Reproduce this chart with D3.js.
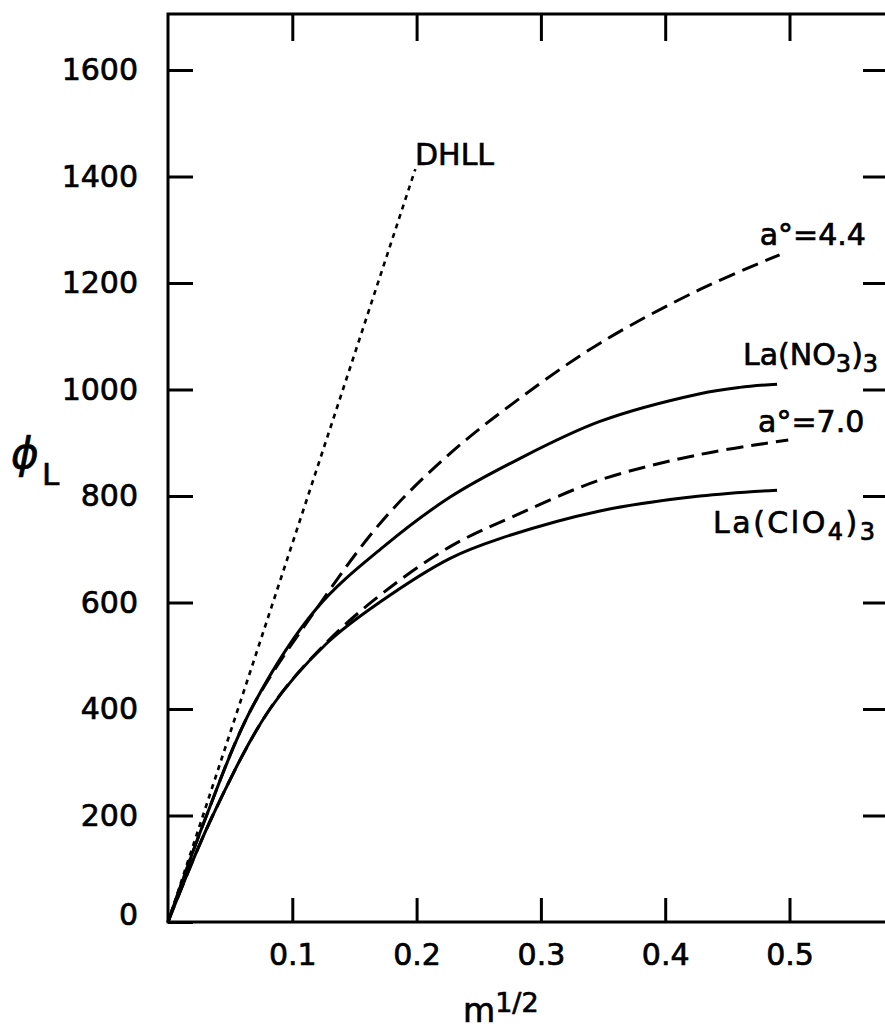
<!DOCTYPE html>
<html>
<head>
<meta charset="utf-8">
<script src="https://cdn.jsdelivr.net/npm/d3@7"></script>
<style>
  html, body { margin: 0; padding: 0; background: #fff; }
  svg { display: block; }
  text { font-family: "DejaVu Sans", sans-serif; fill: #000; stroke: #000; stroke-width: 0.7px; }
</style>
</head>
<body>
<svg id="chart" width="885" height="1030"></svg>
<script>
// ---- data (m^1/2, phi_L) ----
const dhll = [[0, 0], [0.199, 1414]];
const a44 = [[0, 0], [0.031, 200], [0.067, 400], [0.12, 590], [0.173, 755], [0.227, 880], [0.281, 980], [0.3475, 1087], [0.428, 1188], [0.492, 1253]];
const laNO3 = [[0, 0], [0.031, 200], [0.067, 400], [0.12, 590], [0.173, 704], [0.227, 798], [0.281, 868], [0.3475, 940], [0.428, 992], [0.46, 1004], [0.49, 1010]];
const a70 = [[0, 0], [0.036, 200], [0.082, 400], [0.128, 526], [0.173, 618], [0.227, 705], [0.281, 765], [0.3475, 830], [0.428, 878], [0.499, 905]];
const laClO4 = [[0, 0], [0.036, 200], [0.082, 400], [0.128, 524], [0.17, 600], [0.227, 683], [0.267, 720], [0.3475, 772], [0.428, 800], [0.49, 811]];

const xTicks = [0.1, 0.2, 0.3, 0.4, 0.5];
const xTickLabels = ["0.1", "0.2", "0.3", "0.4", "0.5"];
const yTicks = [0, 200, 400, 600, 800, 1000, 1200, 1400, 1600];
const yTickLabels = ["0", "200", "400", "600", "800", "1000", "1200", "1400", "1600"];

const curveLabels = [
  { name: "DHLL", m: 0.1987, v: 1422 },
  { name: "a44", m: 0.476, v: 1271 },
  { name: "laNO3", m: 0.4626, v: 1046 },
  { name: "a70", m: 0.4747, v: 920 },
  { name: "laClO4", m: 0.4385, v: 730 }
];

// ---- layout ----
const svg = d3.select("#chart");
const X0 = 168, X1 = 887, Y0 = 922, Y1 = 14;
const x = d3.scaleLinear().domain([0, (X1 - X0) / 1243]).range([X0, X1]);
const y = d3.scaleLinear().domain([0, (Y0 - Y1) / 0.5325]).range([Y0, Y1]);

// frame
svg.append("rect")
  .attr("x", X0).attr("y", Y1)
  .attr("width", X1 - X0).attr("height", Y0 - Y1)
  .attr("fill", "none").attr("stroke", "#000").attr("stroke-width", 3);

function styleAxis(g) {
  g.select(".domain").remove();
  g.selectAll(".tick line").attr("stroke", "#000").attr("stroke-width", 3);
  g.selectAll(".tick text").style("font-family", "DejaVu Sans").style("font-size", "30px")
    .attr("fill", "#000").attr("stroke", "#000").attr("stroke-width", 0.7);
}

// bottom axis
svg.append("g").attr("transform", `translate(0,${Y0})`)
  .call(d3.axisBottom(x).tickValues(xTicks).tickFormat((d, i) => xTickLabels[i])
    .tickSize(-24).tickSizeOuter(0).tickPadding(22))
  .call(styleAxis);

// top axis (ticks only)
svg.append("g").attr("transform", `translate(0,${Y1})`)
  .call(d3.axisTop(x).tickValues(xTicks).tickFormat("").tickSize(-27).tickSizeOuter(0))
  .call(styleAxis);

// left axis
svg.append("g").attr("transform", `translate(${X0},0)`)
  .call(d3.axisLeft(y).tickValues(yTicks).tickFormat((d, i) => yTickLabels[i])
    .tickSize(-25).tickSizeOuter(0).tickPadding(30))
  .call(styleAxis)
  .selectAll(".tick")
  .filter(d => d === 0)
  .select("text").attr("dy", "0.08em");

// right axis (ticks only)
svg.append("g").attr("transform", `translate(${X1},0)`)
  .call(d3.axisRight(y).tickValues(yTicks.filter(d => d > 0)).tickFormat("").tickSize(-24).tickSizeOuter(0))
  .call(styleAxis);

// ---- curves ----
const line = d3.line().x(d => x(d[0])).y(d => y(d[1])).curve(d3.curveCatmullRom.alpha(0.5));
const series = [
  { data: dhll, dash: "5,5", w: 2.6 },
  { data: a44, dash: "17,8", w: 3 },
  { data: laNO3, dash: null, w: 3 },
  { data: a70, dash: "17,8", w: 3 },
  { data: laClO4, dash: null, w: 3 }
];
series.forEach(s => {
  svg.append("path")
    .attr("d", line(s.data))
    .attr("fill", "none")
    .attr("stroke", "#000")
    .attr("stroke-width", s.w)
    .attr("stroke-linecap", "butt")
    .attr("stroke-dasharray", s.dash);
});

// ---- curve labels ----
function lab(name) { return curveLabels.find(c => c.name === name); }
function addText(l, parts, spacing) {
  const t = svg.append("text")
    .attr("x", x(l.m)).attr("y", y(l.v))
    .style("font-size", "30px");
  if (spacing) t.attr("letter-spacing", spacing);
  parts.forEach(p => {
    const ts = t.append("tspan").text(p.t);
    if (p.sub) ts.style("font-size", "24px").attr("dy", p.dy);
    else if (p.dy) ts.attr("dy", p.dy);
  });
  return t;
}
addText(lab("DHLL"), [{ t: "DHLL" }]);
addText(lab("a44"), [{ t: "a°=4.4" }]);
addText(lab("a70"), [{ t: "a°=7.0" }]);
addText(lab("laNO3"), [{ t: "La(NO" }, { t: "3", sub: true, dy: 7 }, { t: ")", dy: -7 }, { t: "3", sub: true, dy: 7 }]);
addText(lab("laClO4"), [{ t: "La(ClO" }, { t: "4", sub: true, dy: 7 }, { t: ")", dy: -7 }, { t: "3", sub: true, dy: 7 }], "2.5px");

// ---- axis titles ----
const yt = svg.append("text").attr("x", 11).attr("y", 468).style("font-size", "42px").style("font-style", "italic");
yt.append("tspan").text("ϕ");
yt.append("tspan").text("L").style("font-size", "31px").style("font-style", "normal").attr("x", 42).attr("y", 485);

const xt = svg.append("text").attr("x", 463).attr("y", 1022).style("font-size", "33px");
xt.append("tspan").text("m");
xt.append("tspan").text("1/2").style("font-size", "27px").attr("dy", -10);
</script>
</body>
</html>
